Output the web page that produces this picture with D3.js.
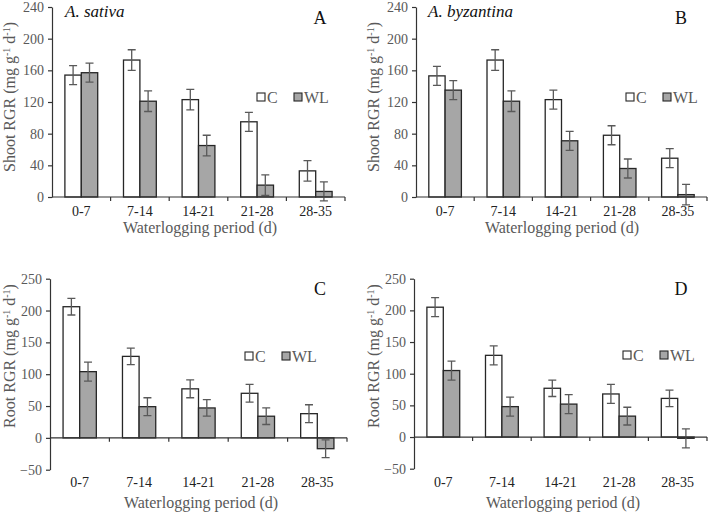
<!DOCTYPE html>
<html><head><meta charset="utf-8">
<script src="https://cdn.jsdelivr.net/npm/d3@7/dist/d3.min.js"></script>
<style>body{margin:0;background:#fff}svg{display:block}</style>
</head><body>
<svg id="chart" width="708" height="514"></svg>
<script>
const categories = ["0-7","7-14","14-21","21-28","28-35"];
const seriesNames = ["C","WL"];
// Panel A: A. sativa shoot
const shootSativaC  = [154,173,123,95,33];
const shootSativaWL = [157,121,65,15,7];
const shootSativaCErr  = [12,13,13,12,13];
const shootSativaWLErr = [12,13,13,13,12];
// Panel B: A. byzantina shoot
const shootByzC  = [153,173,123,78,49];
const shootByzWL = [135,121,71,36,3];
const shootByzCErr  = [12,13,12,12,12];
const shootByzWLErr = [12,13,12,12,13];
// Panel C: A. sativa root
const rootSativaC  = [206,128,77,70,38];
const rootSativaWL = [104,49,47,34,-17];
const rootSativaCErr  = [13,13,14,14,14];
const rootSativaWLErr = [15,14,13,13,14];
// Panel D: A. byzantina root
const rootByzC  = [205,129,77,68,61];
const rootByzWL = [105,48,52,33,-2];
const rootByzCErr  = [15,15,13,15,13];
const rootByzWLErr = [15,15,15,14,15];
const shootTicks = [0,40,80,120,160,200,240];
const rootTicks = [-50,0,50,100,150,200,250];

const svg = d3.select("#chart");
const serif = "'Liberation Serif','Times New Roman',serif";
const gray = "#595959";

const panels = [
  {x0:52,x1:345,yTop:7,yBot:197,dom:[0,240],ticks:shootTicks,c:shootSativaC,w:shootSativaWL,ce:shootSativaCErr,we:shootSativaWLErr,
   letter:"A",lx:320,ly:24,species:"A. sativa",sx:65,yTitle:"Shoot",ytx:15,yty:97,xtx:200,xty:233,xly:216,
   legX:257,legY:97},
  {x0:416,x1:707,yTop:7,yBot:197,dom:[0,240],ticks:shootTicks,c:shootByzC,w:shootByzWL,ce:shootByzCErr,we:shootByzWLErr,
   letter:"B",lx:681,ly:24,species:"A. byzantina",sx:428,yTitle:"Shoot",ytx:379,yty:97,xtx:562,xty:233,xly:216,
   legX:626,legY:97},
  {x0:50,x1:347,yTop:278.7,yBot:469.7,dom:[-50,250],ticks:rootTicks,c:rootSativaC,w:rootSativaWL,ce:rootSativaCErr,we:rootSativaWLErr,
   letter:"C",lx:320,ly:295,species:null,yTitle:"Root",ytx:15,yty:356,xtx:201,xty:508,xly:487,
   legX:245,legY:356},
  {x0:414,x1:707,yTop:278.7,yBot:468.7,dom:[-50,250],ticks:rootTicks,c:rootByzC,w:rootByzWL,ce:rootByzCErr,we:rootByzWLErr,
   letter:"D",lx:681,ly:295,species:null,yTitle:"Root",ytx:379,yty:356,xtx:563,xty:508,xly:487,
   legX:623,legY:355}
];

panels.forEach(p => {
  const g = svg.append("g");
  const y = d3.scaleLinear().domain(p.dom).range([p.yBot,p.yTop]);
  const x = d3.scaleBand().domain(categories).range([p.x0,p.x1]).paddingInner(0.44).paddingOuter(0.22);
  const xs = d3.scaleBand().domain(seriesNames).range([0,x.bandwidth()]);
  const y0 = y(0);

  // y axis
  const ya = g.append("g").attr("transform",`translate(${p.x0},0)`)
    .call(d3.axisLeft(y).tickValues(p.ticks).tickSize(4).tickSizeOuter(0).tickFormat(d3.format("d")));
  ya.select(".domain").attr("stroke","#333").attr("stroke-width",1.2);
  ya.selectAll(".tick line").attr("stroke","#333").attr("stroke-width",1.2);
  ya.selectAll(".tick text").attr("fill",gray).attr("font-family",serif).attr("font-size",14).attr("x",-8);

  // bars
  const rows = categories.map((c,i)=>({cat:c,vals:[
    {s:"C",v:p.c[i],e:p.ce[i]},{s:"WL",v:p.w[i],e:p.we[i]}]}));
  const cg = g.selectAll(".cat").data(rows).enter().append("g")
    .attr("transform",d=>`translate(${x(d.cat)},0)`);
  cg.selectAll("rect").data(d=>d.vals).enter().append("rect")
    .attr("x",d=>xs(d.s)).attr("width",xs.bandwidth())
    .attr("y",d=>Math.min(y(d.v),y0)).attr("height",d=>Math.abs(y(d.v)-y0))
    .attr("fill",d=>d.s==="C"?"#ffffff":"#a6a6a6")
    .attr("stroke","#262626").attr("stroke-width",1.3);

  // x axis at zero
  const xa = g.append("g").attr("transform",`translate(0,${y0})`);
  xa.append("line").attr("x1",p.x0).attr("x2",p.x1).attr("stroke","#333").attr("stroke-width",1.2);
  const bounds = categories.map(c=>x(c)-x.step()*x.paddingInner()/2).concat([p.x1]);
  xa.selectAll(".bt").data(bounds.slice(1)).enter().append("line")
    .attr("x1",d=>d).attr("x2",d=>d).attr("y1",0).attr("y2",4).attr("stroke","#333").attr("stroke-width",1.2);

  // error bars
  cg.selectAll(".eb").data(d=>d.vals).enter().append("path")
    .attr("d",d=>{const cx=xs(d.s)+xs.bandwidth()/2, t=y(d.v+d.e), b=y(d.v-d.e);
      return `M${cx},${t}V${b}M${cx-4},${t}H${cx+4}M${cx-4},${b}H${cx+4}`;})
    .attr("stroke",gray).attr("stroke-width",1.3).attr("fill","none");

  // x tick labels
  g.selectAll(".xl").data(categories).enter().append("text")
    .attr("x",d=>x(d)+x.bandwidth()/2).attr("y",p.xly).attr("text-anchor","middle")
    .attr("font-family",serif).attr("font-size",14).attr("fill","#222").text(d=>d);

  // x title
  g.append("text").attr("x",p.xtx).attr("y",p.xty).attr("text-anchor","middle")
    .attr("font-family",serif).attr("font-size",16).attr("fill",gray).text("Waterlogging period (d)");

  // y title
  const yt = g.append("text").attr("transform",`translate(${p.ytx},${p.yty}) rotate(-90)`)
    .attr("text-anchor","middle").attr("font-family",serif).attr("font-size",16).attr("fill",gray);
  yt.append("tspan").text(p.yTitle+" RGR (mg g");
  yt.append("tspan").attr("font-size",10).attr("dy",-5).text("-1");
  yt.append("tspan").attr("dy",5).text(" d");
  yt.append("tspan").attr("font-size",10).attr("dy",-5).text("-1");
  yt.append("tspan").attr("dy",5).text(")");

  // panel letter
  g.append("text").attr("x",p.lx).attr("y",p.ly).attr("text-anchor","middle")
    .attr("font-family",serif).attr("font-size",18).attr("fill","#111").text(p.letter);
  if (p.species) {
    g.append("text").attr("x",p.sx).attr("y",17).attr("font-family",serif).attr("font-style","italic")
      .attr("font-size",17).attr("fill","#111").text(p.species);
  }

  // legend
  const lg = g.append("g");
  [["C","#ffffff",0],["WL","#a6a6a6",37]].forEach(([n,f,dx])=>{
    lg.append("rect").attr("x",p.legX+dx).attr("y",p.legY-4).attr("width",8).attr("height",8)
      .attr("fill",f).attr("stroke","#262626").attr("stroke-width",1.1);
    lg.append("text").attr("x",p.legX+dx+10).attr("y",p.legY+5.5).attr("font-family",serif)
      .attr("font-size",16).attr("fill",gray).text(n);
  });
});
</script>
</body></html>
